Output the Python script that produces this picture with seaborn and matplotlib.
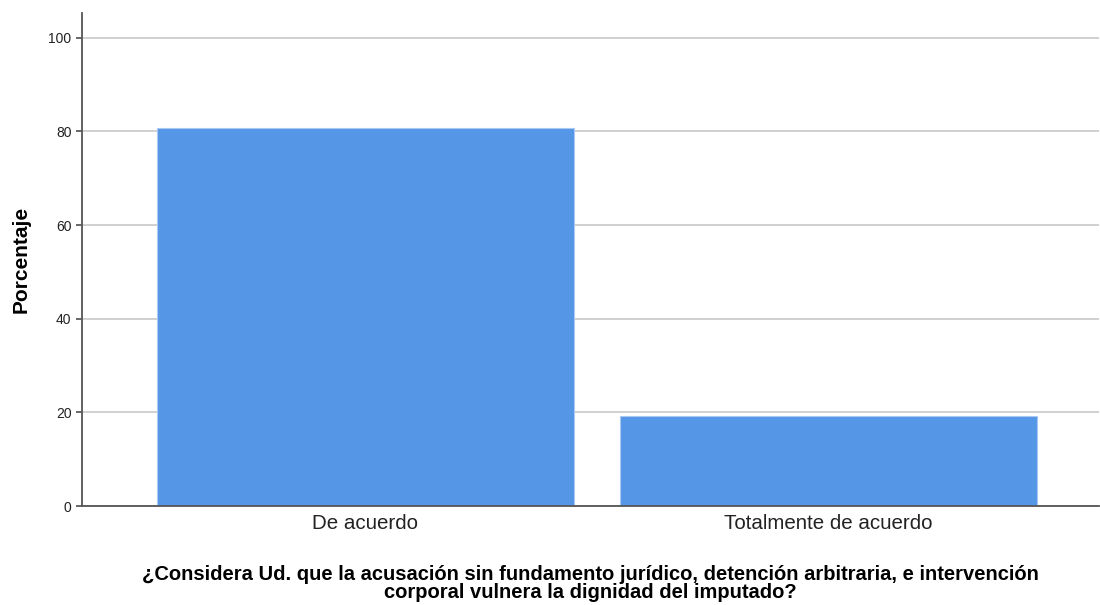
import matplotlib
matplotlib.use("Agg")
import matplotlib.pyplot as plt
import seaborn as sns
import pandas as pd

# datos del grafico
categorias = ["De acuerdo", "Totalmente de acuerdo"]
porcentajes = [80.8, 19.2]
yticks = [0, 20, 40, 60, 80, 100]
xlabel = ("¿Considera Ud. que la acusación sin fundamento jurídico, detención arbitraria, e intervención\n"
          "corporal vulnera la dignidad del imputado?")

sns.set_theme(style="white")
plt.rcParams["font.family"] = ["Liberation Sans", "DejaVu Sans"]
plt.rcParams["text.color"] = "black"
plt.rcParams["axes.labelcolor"] = "black"
plt.rcParams["xtick.color"] = "black"
plt.rcParams["ytick.color"] = "black"

df = pd.DataFrame({"categoria": categorias, "porcentaje": porcentajes})

fig = plt.figure(figsize=(11, 6.05), dpi=100)
ax = fig.add_axes([0.0745, 0.1636, 0.925, 0.815])

ax.set_axisbelow(True)
ax.yaxis.grid(True, color="#c8c8c8", linewidth=1.2)
sns.barplot(data=df, x="categoria", y="porcentaje", color="#5596e6",
            width=0.9, saturation=1, edgecolor="#a9c9f2", linewidth=0.8, ax=ax)

ax.set_ylim(0, 105.3)
ax.set_xlim(-0.612, 1.585)
ax.set_yticks(yticks)
ax.tick_params(axis="y", labelsize=10, length=4, color="#555555", left=True, labelcolor="#222222")
ax.tick_params(axis="x", labelsize=14.8, length=0, pad=6, labelcolor="#222222")
for s in ["top", "right"]:
    ax.spines[s].set_visible(False)
for s in ["left", "bottom"]:
    ax.spines[s].set_color("#555555")
    ax.spines[s].set_linewidth(1.3)

ax.set_ylabel("Porcentaje", fontsize=15, fontweight="bold", labelpad=13)
ax.set_xlabel(xlabel, fontsize=14.5, fontweight="bold", labelpad=23, linespacing=0.92)

fig.savefig("out.png", dpi=100)
